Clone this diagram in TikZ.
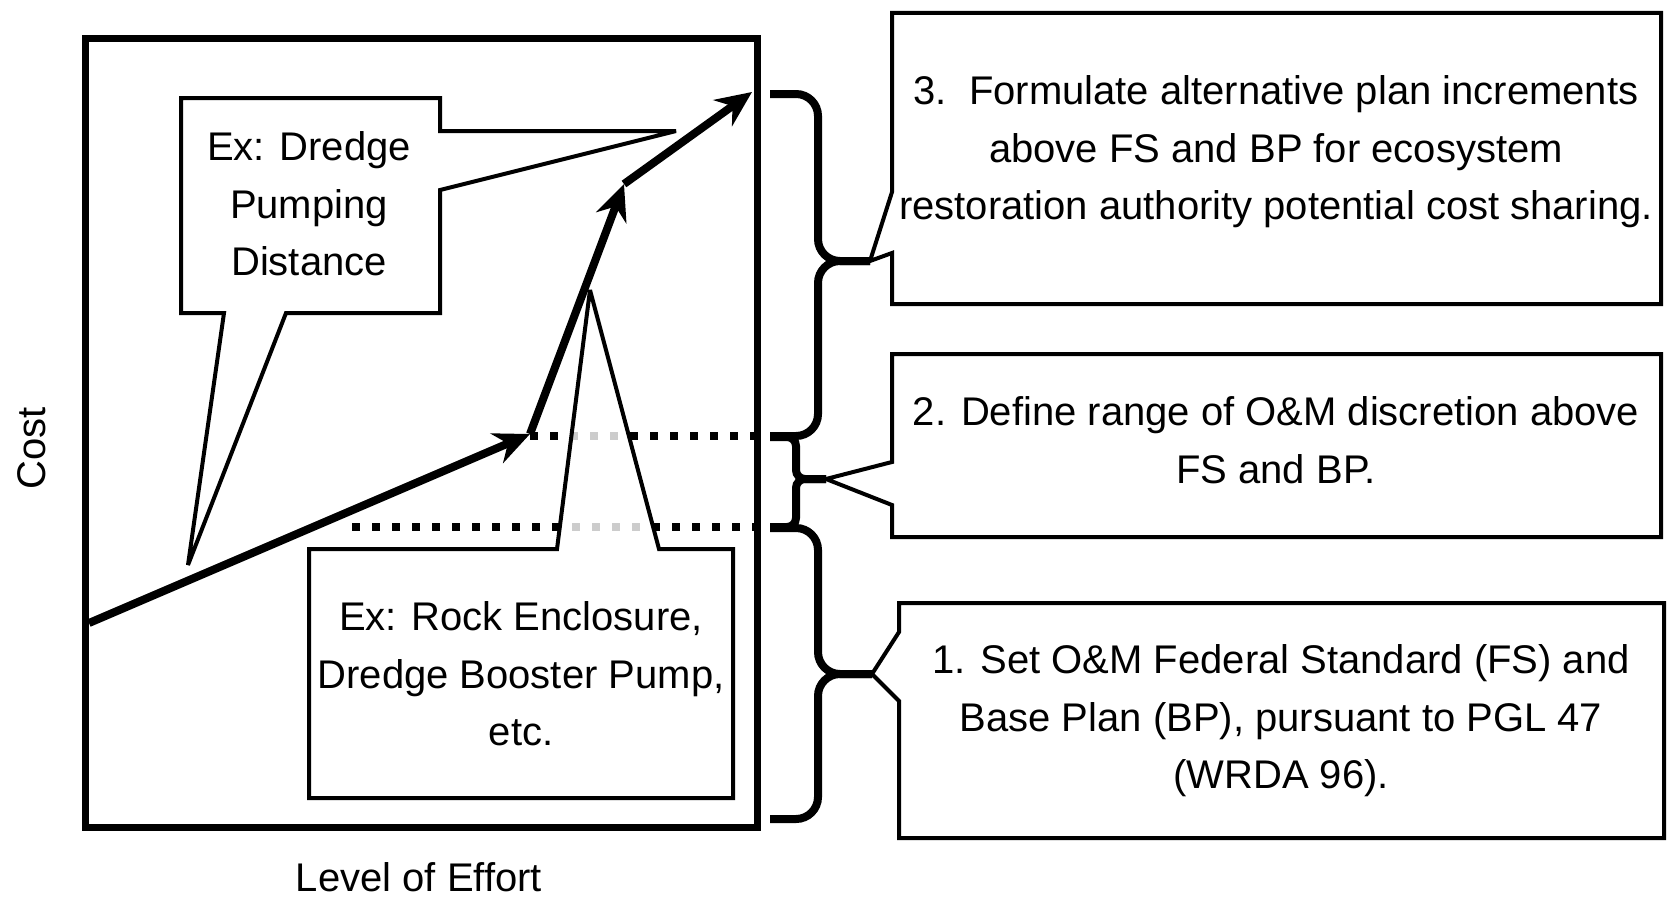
\documentclass[tikz,border=0pt]{standalone}
\usepackage{fontspec}
\setmainfont{Liberation Sans}
\usetikzlibrary{arrows.meta,positioning}

\begin{document}
\begin{tikzpicture}[x=1pt, y=-1pt,
  txt/.style={align=center, inner sep=0pt, font=\fontsize{40}{57.5}\selectfont},
  callout/.style={draw, line width=4pt, miter limit=3, fill=white},
  curly/.style={line width=8pt, rounded corners=22pt},
  effort/.style={line width=8pt, -{Stealth[length=36pt, width=32pt, inset=12pt]}},
  dots/.style={line width=8pt, dash pattern=on 8pt off 12pt}]
\path[use as bounding box, fill=white] (0,0) rectangle (1673,899);

% chart frame and axis labels
\draw[line width=7pt] (85,39) rectangle (757,827);
\node[txt, rotate=90] (cost) at (32,448) {Cost};
\node[txt] (loe) at (419,877) {Level of Effort};

% FS/BP levels
\draw[dots] (530,436) -- (757,436);
\draw[dots] (352,527) -- (757,527);

% examples
\draw[callout] (181,98) -- (440,98) -- (440,131) -- (676,131) -- (440,190)
  -- (440,313) -- (286,313) -- (188,565) -- (224,313) -- (181,313) -- cycle;
\node[txt] (pump) at (309,204) {Ex: Dredge\\Pumping\\Distance};
\draw[callout, fill opacity=0.8] (309,549) -- (557,549) -- (590,290) -- (659,549)
  -- (733,549) -- (733,798) -- (309,798) -- cycle;
\node[txt] (rock) at (521,674) {Ex: Rock Enclosure,\\Dredge Booster Pump,\\etc.};

% cost curve
\coordinate (p0) at (89,623);
\coordinate (p1) at (530,434);
\coordinate (p2) at (624,184);
\coordinate (p3) at (752,92);
\draw[effort] (p0) -- (p1);
\draw[effort] (p1) -- (p2);
\draw[effort] (p2) -- (p3);

% steps
\coordinate (t3) at (870,261);
\draw[callout] (892,13) -- (1661,13) -- (1661,304) -- (892,304) -- (892,253)
  -- (t3) -- (892,192) -- cycle;
\node[txt] (step3) at (1276,152) {3.\ \ Formulate alternative plan increments\\above FS and BP for ecosystem\\restoration authority potential cost sharing.};

\coordinate (t2) at (826,479);
\draw[callout] (892,354) -- (1661,354) -- (1661,537) -- (892,537) -- (892,505)
  -- (t2) -- (892,462) -- cycle;
\node[txt] (step2) at (1276,440) {2. Define range of O\&M discretion above\\FS and BP.};

\coordinate (t1) at (872,674);
\draw[callout] (899,603) -- (1664,603) -- (1664,838) -- (899,838) -- (899,701)
  -- (t1) -- (899,632) -- cycle;
\node[txt] (step1) at (1281,721) {1. Set O\&M Federal Standard (FS) and\\Base Plan (BP), pursuant to PGL 47\\(WRDA 96).};

% braces
\draw[curly] (770,94) -| (818,261) -- (t3);
\draw[curly] (770,436) -| (818,261) -- (t3);
\draw[curly, rounded corners=9pt] (770,437) -| (796,479) -- (t2);
\draw[curly, rounded corners=9pt] (770,527) -| (796,479) -- (t2);
\draw[curly] (770,528) -| (818,674) -- (t1);
\draw[curly] (770,819) -| (818,674) -- (t1);
\end{tikzpicture}
\end{document}
